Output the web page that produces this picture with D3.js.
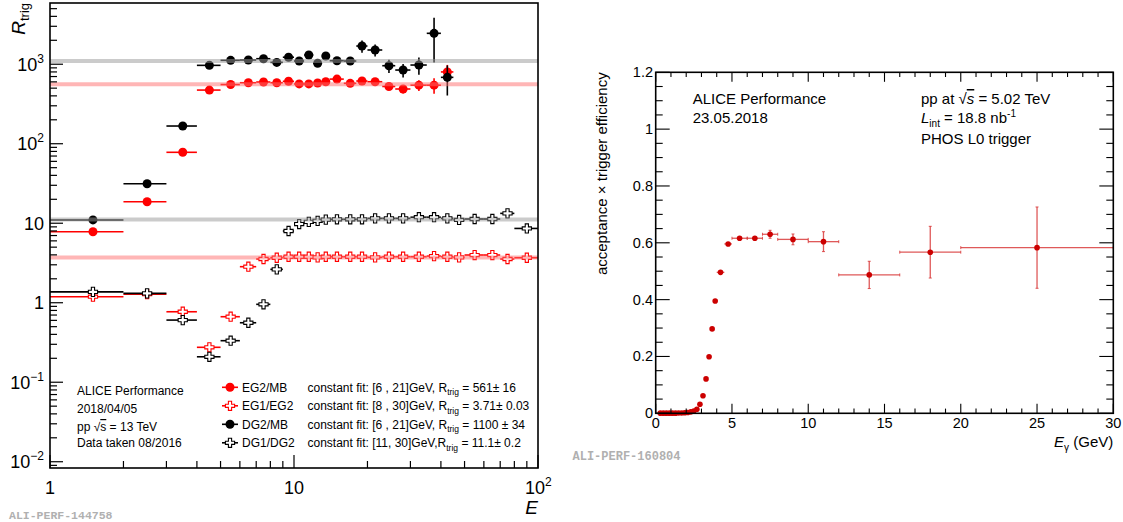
<!DOCTYPE html>
<html><head><meta charset="utf-8">
<script src="https://cdn.jsdelivr.net/npm/d3@7"></script>
<style>
body{margin:0;background:#fff;}
svg{display:block;font-family:"Liberation Sans",Arial,Helvetica,sans-serif;}
</style></head><body>
<svg id="c" width="1123" height="522"></svg>
<script>
// ---------------- Left panel data ----------------
const binLo = [1,2,3,4,5,6,7,8,9,10,11,12,13,14,16,18,20,23,26,30,35,40,45,50,60,70,80];
const binHi = [2,3,4,5,6,7,8,9,10,11,12,13,14,16,18,20,23,26,30,35,40,45,50,60,70,80,100];
const eg2mb    = [7.8,18.6,78,473,555,585,597,585,610,565,565,580,602,650,575,615,602,525,488,545,545,800];
const eg2mbErr = [0.3,0.6,2,10,12,12,13,14,15,16,17,18,20,22,25,30,35,45,60,85,120,180];
const dg2mb    = [11.0,31.4,167,968,1120,1130,1173,1055,1225,1097,1306,1026,1268,1107,1097,1694,1510,958,845,977,2448,684];
const dg2mbErr = [0.5,1,4,25,30,30,35,35,40,45,50,50,60,60,70,300,260,180,165,240,1400,280];
const eg1eg2    = [1.19,1.28,0.77,0.275,0.667,2.84,3.55,3.68,3.79,3.79,3.79,3.72,3.79,3.79,3.79,3.79,3.72,3.79,3.79,3.79,3.86,3.79,3.72,3.98,3.98,3.55,3.68];
const eg1eg2Err = [0.02,0.02,0.01,0.005,0.01,0.03,0.03,0.03,0.03,0.03,0.03,0.03,0.03,0.03,0.04,0.04,0.04,0.05,0.05,0.06,0.06,0.07,0.08,0.08,0.09,0.1,0.1];
const dg1dg2    = [1.37,1.31,0.605,0.209,0.333,0.56,0.955,2.63,7.98,9.77,10.4,10.7,11.1,11.2,11.2,11.2,11.5,11.5,11.5,11.9,11.9,11.5,11.0,11.3,11.3,13.3,8.6];
const dg1dg2Err = [0.02,0.02,0.01,0.005,0.01,0.01,0.02,0.05,0.1,0.1,0.1,0.1,0.15,0.15,0.15,0.15,0.2,0.2,0.2,0.2,0.25,0.25,0.3,0.3,0.35,0.4,0.4];
const seriesNames = ["EG2/MB","EG1/EG2","DG2/MB","DG1/DG2"];
const fitValues = [561, 3.71, 1100, 11.1];
const fitRanges = ["[6 , 21]GeV, ","[8 , 30]GeV, ","[6 , 21]GeV, ","[11, 30]GeV,"];
const fitResults = [" = 561\u00b1 16"," = 3.71\u00b1 0.03"," = 1100 \u00b1 34"," = 11.1\u00b1 0.2"];
const infoLeft = ["ALICE Performance","2018/04/05","pp \u221As = 13 TeV","Data taken 08/2016"];
const yTickExp = [-2,-1,0,1,2,3];
const xTickLeft = [1,10,100];

// ---------------- Right panel data ----------------
const effE    = [0.3,0.5,0.7,0.9,1.1,1.3,1.5,1.7,1.9,2.1,2.3,2.5,2.7,2.9,3.1,3.3,3.5,3.7,3.9,4.25,4.75,5.5,6.5,7.5,9,11,14,18,25];
const effHalf = [0.1,0.1,0.1,0.1,0.1,0.1,0.1,0.1,0.1,0.1,0.1,0.1,0.1,0.1,0.1,0.1,0.1,0.1,0.1,0.25,0.25,0.5,0.5,0.5,1,1,2,2,5];
const effVal  = [0.0005,0.0005,0.0005,0.0005,0.0005,0.0005,0.001,0.001,0.002,0.003,0.005,0.008,0.014,0.032,0.062,0.121,0.199,0.297,0.395,0.496,0.596,0.616,0.616,0.630,0.612,0.604,0.487,0.567,0.583];
const effErr  = [0,0,0,0,0,0,0,0,0.001,0.001,0.001,0.001,0.002,0.002,0.003,0.003,0.004,0.005,0.005,0.005,0.006,0.006,0.007,0.014,0.019,0.035,0.048,0.091,0.143];
const yTickRight = [0,0.2,0.4,0.6,0.8,1,1.2];
const xTickRight = [0,5,10,15,20,25,30];

const svg = d3.select("#c");

// ================= LEFT PANEL =================
const L = {x0:50, x1:538, y0:3, y1:468};
const xL = d3.scaleLog().domain([1,100]).range([L.x0,L.x1]);
const yL = d3.scaleLog().domain([0.00834,5890]).range([L.y1,L.y0]);
const gL = svg.append("g");

const RED = "#ff0000", BLK = "#000000";
const crossPath = (h,w) => `M${-w},${-h}L${w},${-h}L${w},${-w}L${h},${-w}L${h},${w}L${w},${w}L${w},${h}L${-w},${h}L${-w},${w}L${-h},${w}L${-h},${-w}L${-w},${-w}Z`;

function drawSeries(vals, errs, color, open){
  const g = gL.append("g");
  vals.forEach((v,i)=>{
    const xc = (binLo[i]+binHi[i])/2;
    g.append("line").attr("x1",xL(binLo[i])).attr("x2",xL(binHi[i]))
      .attr("y1",yL(v)).attr("y2",yL(v)).attr("stroke",color).attr("stroke-width",1.6);
    g.append("line").attr("x1",xL(xc)).attr("x2",xL(xc))
      .attr("y1",yL(v+errs[i])).attr("y2",yL(Math.max(v-errs[i],1e-3))).attr("stroke",color).attr("stroke-width",1.6);
  });
  vals.forEach((v,i)=>{
    const xc = (binLo[i]+binHi[i])/2;
    if(open){
      g.append("path").attr("d",crossPath(4.6,1.6)).attr("transform",`translate(${xL(xc)},${yL(v)})`)
        .attr("fill","#fff").attr("stroke",color).attr("stroke-width",1.1);
    } else {
      g.append("circle").attr("cx",xL(xc)).attr("cy",yL(v)).attr("r",4.5).attr("fill",color);
    }
  });
}
drawSeries(eg1eg2, eg1eg2Err, RED, true);
drawSeries(dg1dg2, dg1dg2Err, BLK, true);
drawSeries(eg2mb, eg2mbErr, RED, false);
drawSeries(dg2mb, dg2mbErr, BLK, false);

// fit bands (drawn over markers, semi-transparent)
const fitColors = ["#ff7070","#ff7070","#999999","#999999"];
fitValues.forEach((f,i)=>{
  gL.append("line").attr("x1",xL(1)).attr("x2",xL(100)).attr("y1",yL(f)).attr("y2",yL(f))
    .attr("stroke",fitColors[i]).attr("stroke-width",4).attr("opacity",0.5);
});

// frame
gL.append("rect").attr("x",L.x0).attr("y",L.y0).attr("width",L.x1-L.x0).attr("height",L.y1-L.y0)
  .attr("fill","none").attr("stroke","#000").attr("stroke-width",1.6);

// y ticks
for(let e=-3;e<=3;e++){
  for(let k=1;k<=9;k++){
    const v = k*Math.pow(10,e);
    if(v<yL.domain()[0]||v>yL.domain()[1]) continue;
    const len = k===1?13:7;
    gL.append("line").attr("x1",L.x0).attr("x2",L.x0+len).attr("y1",yL(v)).attr("y2",yL(v)).attr("stroke","#000").attr("stroke-width",1.2);
  }
}
yTickExp.forEach(e=>{
  const t = gL.append("text").attr("x",44).attr("y",yL(Math.pow(10,e))+6.5).attr("text-anchor","end").attr("font-size",18);
  if(e===0){ t.text("1"); }
  else if(e===1){ t.text("10"); }
  else {
    t.append("tspan").text("10");
    t.append("tspan").attr("dy",-8).attr("font-size",12).text(e<0?"\u2212"+(-e):String(e));
  }
});
// x ticks
for(let e=0;e<2;e++){
  for(let k=1;k<=9;k++){
    const v = k*Math.pow(10,e);
    const len = k===1?13:7;
    gL.append("line").attr("x1",xL(v)).attr("x2",xL(v)).attr("y1",L.y1).attr("y2",L.y1-len).attr("stroke","#000").attr("stroke-width",1.2);
  }
}
gL.append("line").attr("x1",xL(100)).attr("x2",xL(100)).attr("y1",L.y1).attr("y2",L.y1-13).attr("stroke","#000").attr("stroke-width",1.2);
xTickLeft.forEach(v=>{
  const t = gL.append("text").attr("y",493.5).attr("font-size",18);
  if(v===1) t.attr("x",xL(v)).attr("text-anchor","middle").text("1");
  else if(v===10) t.attr("x",xL(v)).attr("text-anchor","middle").text("10");
  else { t.attr("x",xL(v)-13).attr("text-anchor","start");
    t.append("tspan").text("10"); t.append("tspan").attr("dy",-8).attr("font-size",12).text("2"); }
});
// axis titles
gL.append("text").attr("x",L.x1).attr("y",514).attr("text-anchor","end").attr("font-size",19).attr("font-style","italic").text("E");
const rt = gL.append("text").attr("transform",`translate(25,3) rotate(-90)`).attr("text-anchor","end").attr("font-size",19);
rt.append("tspan").attr("font-style","italic").text("R");
rt.append("tspan").attr("dy",4).attr("font-size",13).text("trig");

// info text
const infoBase = [395,413,431,447];
infoLeft.forEach((s,i)=>{
  const t = gL.append("text").attr("x",77).attr("y",infoBase[i]).attr("font-size",12);
  if(i===2){
    t.append("tspan").text("pp \u221A");
    t.append("tspan").style("text-decoration","overline").text("s");
    t.append("tspan").text(" = 13 TeV");
  } else t.text(s);
});
// legend
const legBase = [391.5,410,428.5,447];
const legColor = [RED,RED,BLK,BLK];
const legOpen = [false,true,false,true];
seriesNames.forEach((n,i)=>{
  const cy = legBase[i]-4.2;
  gL.append("line").attr("x1",222).attr("x2",238).attr("y1",cy).attr("y2",cy).attr("stroke",legColor[i]).attr("stroke-width",1.6);
  if(legOpen[i]) gL.append("path").attr("d",crossPath(4.6,1.6)).attr("transform",`translate(230,${cy})`).attr("fill","#fff").attr("stroke",legColor[i]).attr("stroke-width",1.1);
  else gL.append("circle").attr("cx",230).attr("cy",cy).attr("r",4.5).attr("fill",legColor[i]);
  gL.append("text").attr("x",242).attr("y",legBase[i]).attr("font-size",12).text(n);
  const t = gL.append("text").attr("x",307.5).attr("y",legBase[i]).attr("font-size",12);
  t.append("tspan").text("constant fit: "+fitRanges[i]+"R");
  t.append("tspan").attr("dy",3.5).attr("font-size",8.5).text("trig");
  t.append("tspan").attr("dy",-3.5).text(fitResults[i]);
});
// watermark
gL.append("text").attr("x",9).attr("y",519).attr("font-family","'Liberation Mono',monospace").attr("font-weight","bold")
  .attr("font-size",11.5).attr("fill","#b0b0b0").text("ALI-PERF-144758");

// ================= RIGHT PANEL =================
const R = {x0:655.7, x1:1113.3, y0:72.3, y1:413.3};
const xR = d3.scaleLinear().domain([0,30]).range([R.x0,R.x1]);
const yR = d3.scaleLinear().domain([0,1.2]).range([R.y1,R.y0]);
const gR = svg.append("g");
const DRED = "#cc0000";
const EBC = "#d83030";

effE.forEach((e,i)=>{
  const x=xR(e), y=yR(effVal[i]);
  const xa=xR(e-effHalf[i]), xb=xR(e+effHalf[i]);
  const ya=yR(effVal[i]+effErr[i]), yb=yR(effVal[i]-effErr[i]);
  gR.append("line").attr("x1",xa).attr("x2",xb).attr("y1",y).attr("y2",y).attr("stroke",EBC).attr("stroke-width",1.3).attr("opacity",0.8);
  gR.append("line").attr("x1",x).attr("x2",x).attr("y1",ya).attr("y2",yb).attr("stroke",EBC).attr("stroke-width",1.3).attr("opacity",0.8);
  if(effHalf[i]>=0.5){
    gR.append("line").attr("x1",xa).attr("x2",xa).attr("y1",y-1.5).attr("y2",y+1.5).attr("stroke",EBC).attr("stroke-width",1).attr("opacity",0.8);
    gR.append("line").attr("x1",xb).attr("x2",xb).attr("y1",y-1.5).attr("y2",y+1.5).attr("stroke",EBC).attr("stroke-width",1).attr("opacity",0.8);
  }
  if(effErr[i]>=0.01){
    gR.append("line").attr("x1",x-1.5).attr("x2",x+1.5).attr("y1",ya).attr("y2",ya).attr("stroke",EBC).attr("stroke-width",1).attr("opacity",0.8);
    gR.append("line").attr("x1",x-1.5).attr("x2",x+1.5).attr("y1",yb).attr("y2",yb).attr("stroke",EBC).attr("stroke-width",1).attr("opacity",0.8);
  }
});
effE.forEach((e,i)=>{
  gR.append("circle").attr("cx",xR(e)).attr("cy",yR(effVal[i])).attr("r",2.8).attr("fill",DRED);
});

gR.append("rect").attr("x",R.x0).attr("y",R.y0).attr("width",R.x1-R.x0).attr("height",R.y1-R.y0)
  .attr("fill","none").attr("stroke","#000").attr("stroke-width",1.6);
// y ticks (left & right)
d3.range(0,25).forEach(j=>{
  const v = j*0.05; const major = j%4===0; const len = major?14:7;
  const y = yR(v);
  gR.append("line").attr("x1",R.x0).attr("x2",R.x0+len).attr("y1",y).attr("y2",y).attr("stroke","#000").attr("stroke-width",1.1);
  gR.append("line").attr("x1",R.x1).attr("x2",R.x1-len).attr("y1",y).attr("y2",y).attr("stroke","#000").attr("stroke-width",1.1);
});
// x ticks (bottom & top)
d3.range(0,31).forEach(v=>{
  const major = v%5===0; const len = major?9.5:4.7;
  const x = xR(v);
  gR.append("line").attr("x1",x).attr("x2",x).attr("y1",R.y1).attr("y2",R.y1-len).attr("stroke","#000").attr("stroke-width",1.1);
  gR.append("line").attr("x1",x).attr("x2",x).attr("y1",R.y0).attr("y2",R.y0+len).attr("stroke","#000").attr("stroke-width",1.1);
});
yTickRight.forEach(v=>{
  gR.append("text").attr("x",653).attr("y",yR(v)+5).attr("text-anchor","end").attr("font-size",14.5).text(String(v));
});
xTickRight.forEach(v=>{
  gR.append("text").attr("x",xR(v)).attr("y",427.5).attr("text-anchor","middle").attr("font-size",14.5).text(String(v));
});
// titles
const xt = gR.append("text").attr("x",R.x1).attr("y",447).attr("text-anchor","end").attr("font-size",15);
xt.append("tspan").attr("font-style","italic").text("E");
xt.append("tspan").attr("dy",3.5).attr("font-size",10).text("\u03b3");
xt.append("tspan").attr("dy",-3.5).text(" (GeV)");
gR.append("text").attr("transform",`translate(607,${R.y0}) rotate(-90)`).attr("text-anchor","end").attr("font-size",15)
  .text("acceptance \u00d7 trigger efficiency");
// info
gR.append("text").attr("x",692.7).attr("y",103.5).attr("font-size",15).text("ALICE Performance");
gR.append("text").attr("x",692.7).attr("y",123).attr("font-size",15).text("23.05.2018");
const t1 = gR.append("text").attr("x",921).attr("y",104).attr("font-size",15);
t1.append("tspan").text("pp at \u221A");
t1.append("tspan").attr("font-style","italic").style("text-decoration","overline").text("s");
t1.append("tspan").text(" = 5.02 TeV");
const t2 = gR.append("text").attr("x",921).attr("y",123).attr("font-size",15);
t2.append("tspan").attr("font-style","italic").text("L");
t2.append("tspan").attr("dy",4).attr("font-size",10).text("int");
t2.append("tspan").attr("dy",-4).text(" = 18.8 nb");
t2.append("tspan").attr("dy",-6).attr("font-size",10).text("-1");
gR.append("text").attr("x",921).attr("y",144).attr("font-size",15).text("PHOS L0 trigger");
gR.append("text").attr("x",572.5).attr("y",460).attr("font-family","'Liberation Mono',monospace").attr("font-weight","bold")
  .attr("font-size",12).attr("fill","#b0b0b0").text("ALI-PERF-160804");
</script></body></html>
